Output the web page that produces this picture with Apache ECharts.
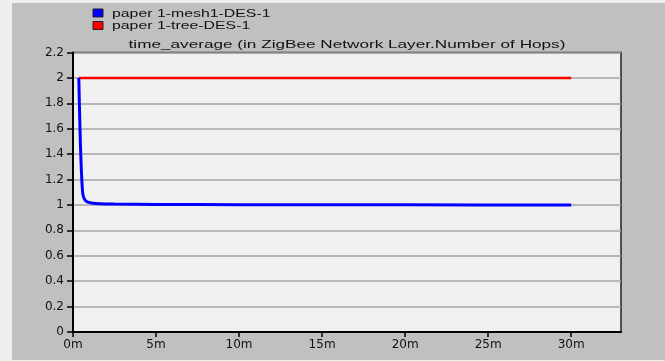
<!DOCTYPE html>
<html>
<head>
<meta charset="utf-8">
<script src="https://cdn.jsdelivr.net/npm/echarts@6/dist/echarts.min.js"></script>
<style>
  html, body { margin: 0; padding: 0; background: #efefef; }
  #chart { width: 665px; height: 361px; }
</style>
</head>
<body>
<div id="chart"></div>
<script>
// Simulation time in minutes and the running time average of hop counts
const seriesNames = ['paper 1-mesh1-DES-1', 'paper 1-tree-DES-1'];
const seriesColors = ['#0000ff', '#ff0000'];
const meshTime = [0.35, 0.42, 0.48, 0.53, 0.58, 0.64, 0.75, 0.9, 1.2, 1.6, 2.5, 5, 10, 20, 30];
const meshHops = [2.0, 1.6, 1.35, 1.2, 1.1, 1.06, 1.035, 1.022, 1.014, 1.01, 1.007, 1.004, 1.002, 1.001, 1.0];
const treeTime = [0.35, 30];
const treeHops = [2.0, 2.0];
const xTicks = [0, 5, 10, 15, 20, 25, 30];
const chartTitle = 'time_average (in ZigBee Network Layer.Number of Hops)';

const pairs = (xs, ys) => xs.map((x, i) => [x, ys[i]]);

const chart = echarts.init(document.getElementById('chart'));
const labelFont = { fontFamily: 'DejaVu Sans', fontSize: 12, color: '#111' };
const wideFont = '11px "Liberation Sans", Arial';

// Key: colour swatch plus series name for each line
const legendItems = seriesNames.flatMap((name, i) => [
  { type: 'rect', shape: { x: 93, y: 9 + i * 12.5, width: 10, height: 8 },
    style: { fill: seriesColors[i], stroke: '#222', lineWidth: 1 } },
  { type: 'text', x: 112, y: 13.5 + i * 12.5, scaleX: 1.44,
    style: { text: name, font: wideFont, fill: '#111', textVerticalAlign: 'middle' } }
]);

chart.setOption({
  animation: false,
  backgroundColor: '#efefef',
  graphic: [
    { type: 'rect', z: -10, shape: { x: 12, y: 3, width: 653, height: 357 }, style: { fill: '#c0c0c0' } },
    { type: 'text', x: 347, y: 45, scaleX: 1.56,
      style: { text: chartTitle, font: wideFont, fill: '#111',
               textAlign: 'center', textVerticalAlign: 'middle' } },
    ...legendItems
  ],
  grid: {
    left: 73, right: 44, top: 52.5, bottom: 29,
    show: true, backgroundColor: '#f0f0f0', borderColor: '#222', borderWidth: 1.5
  },
  xAxis: {
    type: 'value', min: 0, max: 33, interval: 5,
    axisLine: { show: true, onZero: false, lineStyle: { color: '#000', width: 2 } },
    axisTick: { show: true, length: 5, lineStyle: { color: '#000', width: 1.5 }, customValues: xTicks },
    axisLabel: { ...labelFont, margin: 7, customValues: xTicks, formatter: v => v + 'm' },
    splitLine: { show: false }
  },
  yAxis: {
    type: 'value', min: 0, max: 2.2, interval: 0.2,
    axisLine: { show: true, lineStyle: { color: '#000', width: 2 } },
    axisTick: { show: true, length: 6, lineStyle: { color: '#000', width: 1.5 } },
    axisLabel: { ...labelFont, margin: 9, formatter: v => String(+v.toFixed(1)) },
    splitLine: { show: true, lineStyle: { color: '#a6a6a6', width: 1.5 } }
  },
  series: [
    {
      name: seriesNames[0], type: 'line', data: pairs(meshTime, meshHops),
      smooth: 0.3, showSymbol: false, symbol: 'none', z: 3,
      color: seriesColors[0], lineStyle: { color: seriesColors[0], width: 3 }
    },
    {
      name: seriesNames[1], type: 'line', data: pairs(treeTime, treeHops),
      showSymbol: false, symbol: 'none', z: 2,
      color: seriesColors[1], lineStyle: { color: seriesColors[1], width: 2.5 }
    }
  ]
});
</script>
</body>
</html>
